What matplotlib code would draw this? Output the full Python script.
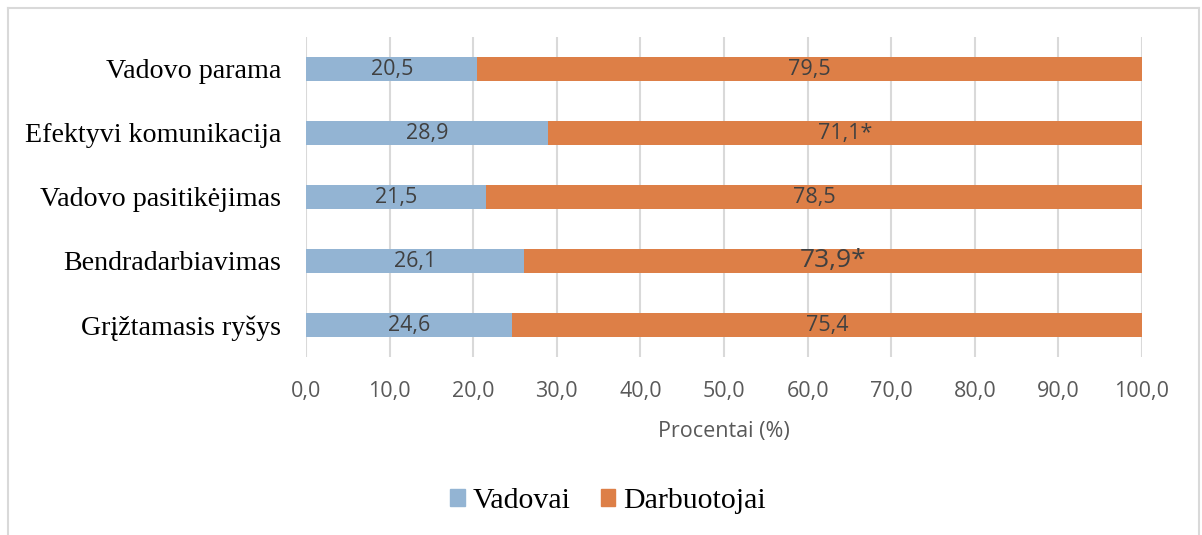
import matplotlib
matplotlib.use("Agg")
import matplotlib.pyplot as plt
from matplotlib.patches import Patch
from matplotlib.lines import Line2D

categories = ["Vadovo parama", "Efektyvi komunikacija", "Vadovo pasitikėjimas",
              "Bendradarbiavimas", "Grįžtamasis ryšys"]
vadovai = [20.5, 28.9, 21.5, 26.1, 24.6]
darbuotojai = [79.5, 71.1, 78.5, 73.9, 75.4]
labels_vad = ["20,5", "28,9", "21,5", "26,1", "24,6"]
labels_darb = ["79,5", "71,1*", "78,5", "73,9*", "75,4"]
xticks = [0, 10, 20, 30, 40, 50, 60, 70, 80, 90, 100]
xtick_labels = ["0,0", "10,0", "20,0", "30,0", "40,0", "50,0", "60,0", "70,0", "80,0", "90,0", "100,0"]

c_blue = "#93B4D3"
c_orange = "#DD7F47"
gray = "#595959"
serif = ["Liberation Serif", "DejaVu Serif"]
sans = ["Open Sans", "DejaVu Sans"]

W, H = 1202, 535
fig = plt.figure(figsize=(W / 100, H / 100), dpi=100)
ax = fig.add_axes([306 / W, (H - 357) / H, (1142 - 306) / W, (357 - 37) / H])

ypos = list(range(len(categories)))
ax.barh(ypos, vadovai, height=0.39, color=c_blue, zorder=3)
ax.barh(ypos, darbuotojai, left=vadovai, height=0.39, color=c_orange, zorder=3)

for i in ypos:
    ax.text(vadovai[i] / 2, i, labels_vad[i], ha="center", va="center",
            color="#404040", fontsize=15.5, family=sans, zorder=4)
    fs = 19 if i == 3 else 15.5
    ax.text(vadovai[i] + darbuotojai[i] / 2, i, labels_darb[i], ha="center", va="center",
            color="#404040", fontsize=fs, family=sans, zorder=4)

ax.set_ylim(len(categories) - 0.5, -0.5)
ax.set_xlim(0, 100)
ax.set_yticks(ypos)
ax.set_yticklabels(categories, family=serif, fontsize=20.2, color="black")
ax.set_xticks(xticks)
ax.set_xticklabels(xtick_labels, family=sans, fontsize=15.5, color=gray)
ax.tick_params(axis="both", length=0)
ax.tick_params(axis="x", pad=17)
ax.tick_params(axis="y", pad=18)
ax.grid(axis="x", color="#D9D9D9", linewidth=1.5, zorder=0)
for s in ax.spines.values():
    s.set_visible(False)
ax.set_xlabel("Procentai (%)", family=sans, fontsize=15.5, color=gray, labelpad=14)

handles = [Patch(color=c_blue, label="Vadovai"), Patch(color=c_orange, label="Darbuotojai")]
fig.legend(handles=handles, loc="center", bbox_to_anchor=(608 / W, 1 - 501 / H),
           ncol=2, frameon=False, prop={"family": serif, "size": 21.5},
           handlelength=0.5, handleheight=0.5, handletextpad=0.25, columnspacing=1.0)

# figure border (bottom clipped)
bc = "#D9D9D9"
fig.add_artist(Line2D([8 / W, 1199 / W], [1 - 8 / H, 1 - 8 / H], transform=fig.transFigure, color=bc, lw=1.5))
fig.add_artist(Line2D([8 / W, 8 / W], [1 - 8 / H, 0], transform=fig.transFigure, color=bc, lw=1.5))
fig.add_artist(Line2D([1199 / W, 1199 / W], [1 - 8 / H, 0], transform=fig.transFigure, color=bc, lw=1.5))

fig.savefig("out.png", dpi=100, facecolor="white")
